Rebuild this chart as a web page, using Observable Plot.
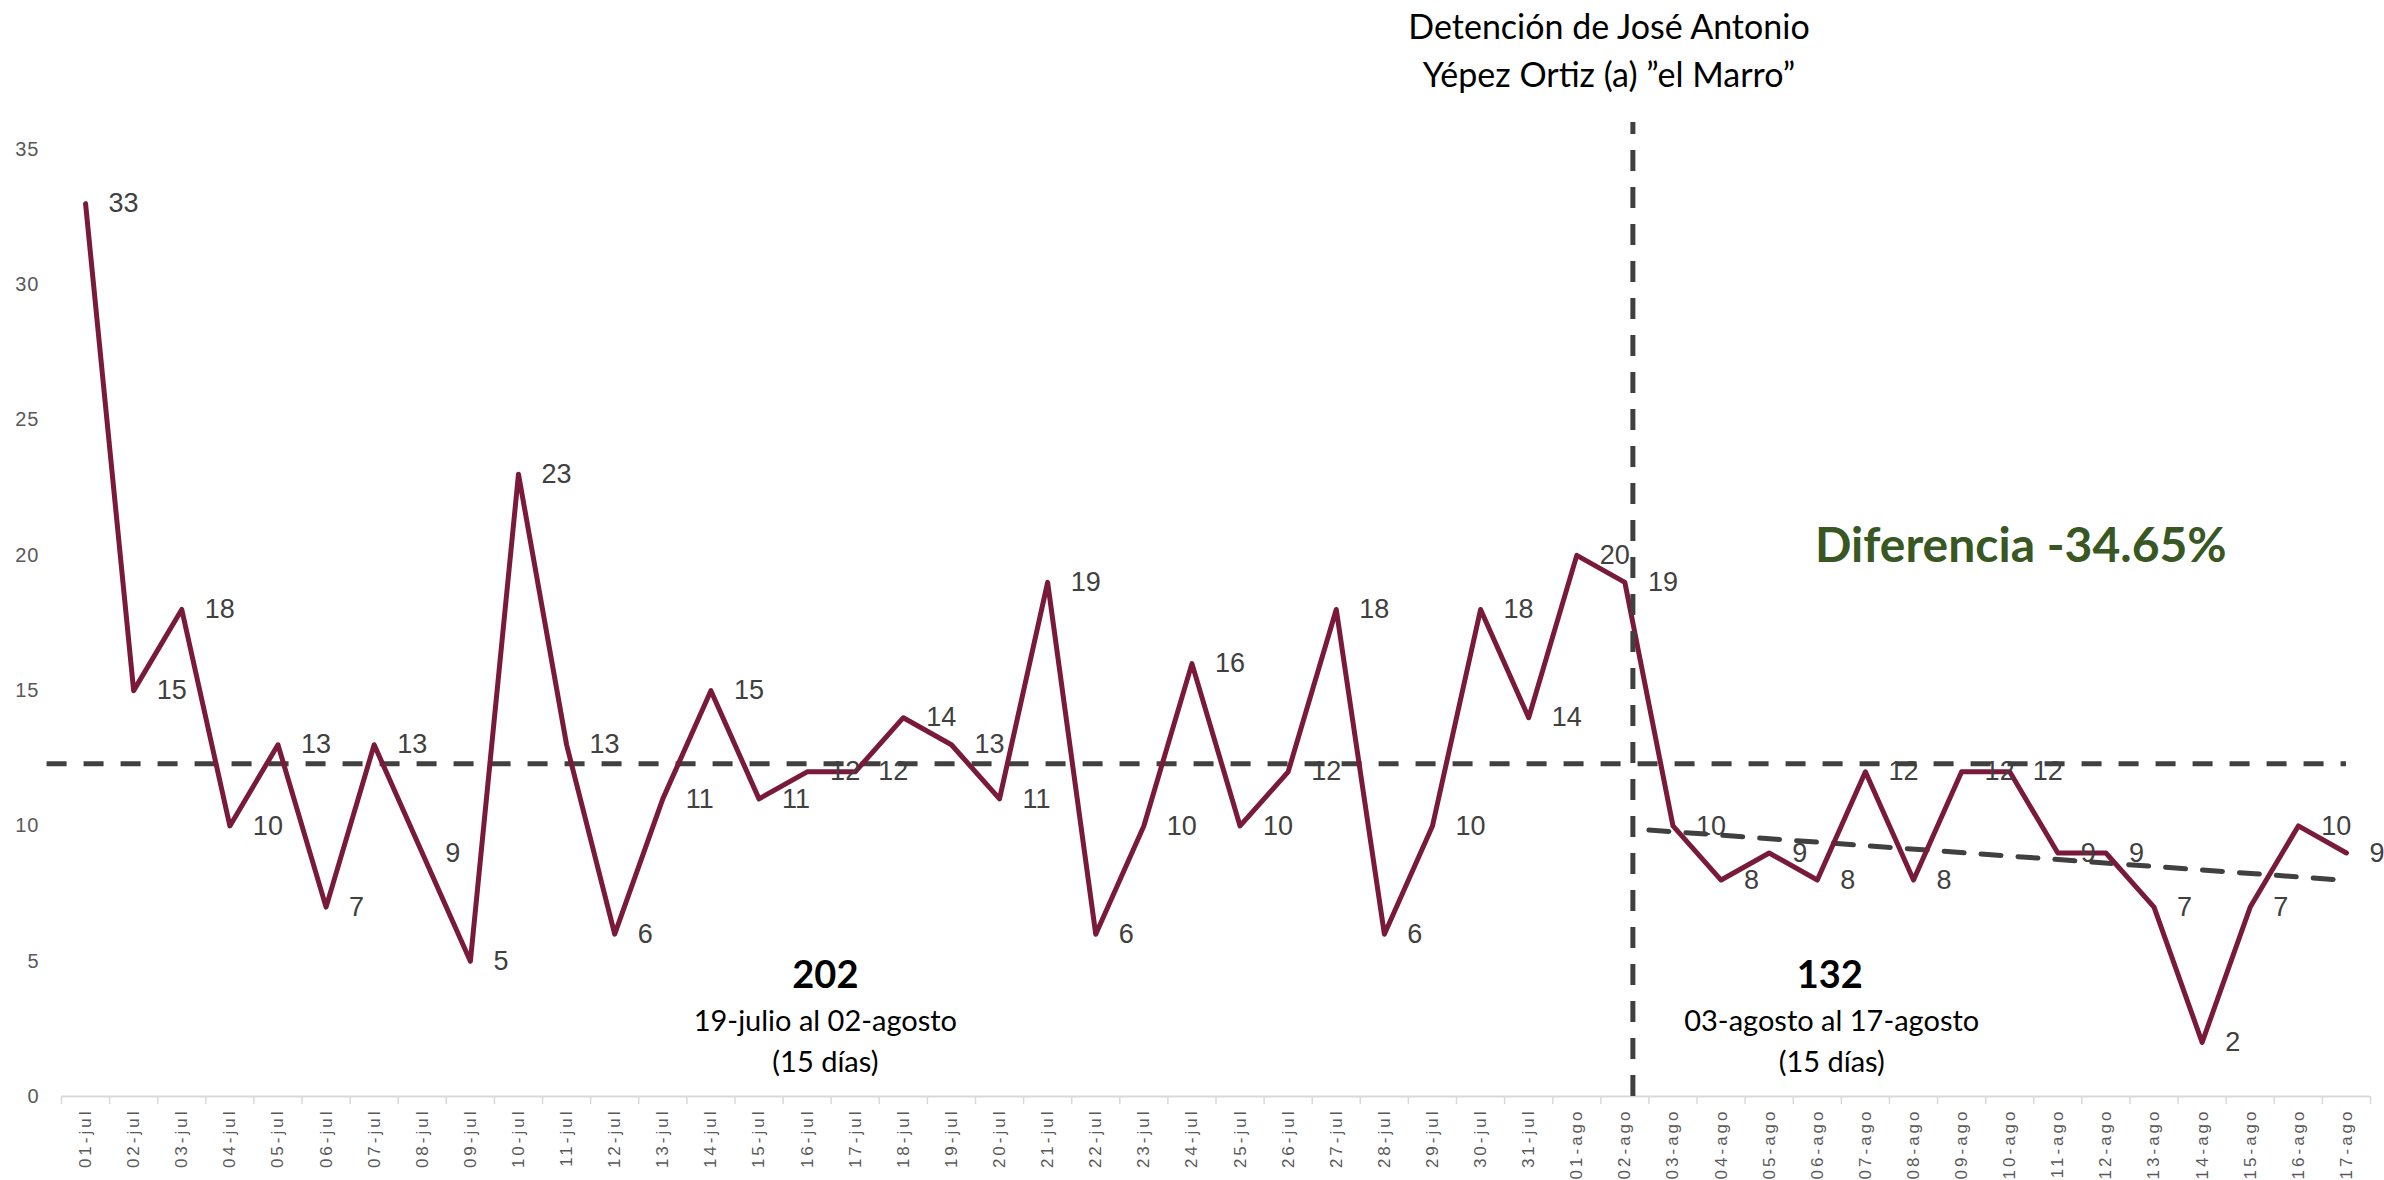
<!DOCTYPE html>
<html>
<head>
<meta charset="utf-8">
<script src="https://cdn.jsdelivr.net/npm/d3@7"></script>
<script src="https://cdn.jsdelivr.net/npm/@observablehq/plot@0.6"></script>
<style>
html, body { margin: 0; padding: 0; background: #ffffff; }
#chart svg { display: block; }
</style>
</head>
<body>
<div id="chart"></div>
<script>
// ---- Data ----
const dates = [
  "01-jul","02-jul","03-jul","04-jul","05-jul","06-jul","07-jul","08-jul","09-jul","10-jul",
  "11-jul","12-jul","13-jul","14-jul","15-jul","16-jul","17-jul","18-jul","19-jul","20-jul",
  "21-jul","22-jul","23-jul","24-jul","25-jul","26-jul","27-jul","28-jul","29-jul","30-jul",
  "31-jul","01-ago","02-ago","03-ago","04-ago","05-ago","06-ago","07-ago","08-ago","09-ago",
  "10-ago","11-ago","12-ago","13-ago","14-ago","15-ago","16-ago","17-ago"
];
const values = [
  33,15,18,10,13,7,13,9,5,23,
  13,6,11,15,11,12,12,14,13,11,
  19,6,10,16,10,12,18,6,10,18,
  14,20,19,10,8,9,8,12,8,12,
  12,9,9,7,2,7,10,9
];
const yTicks = [0, 5, 10, 15, 20, 25, 30, 35];
const referenceLevel = 12.3;          // horizontal dashed line
const trendValues = [9.85, 8.0];      // dashed trend, start / end (03-ago → 17-ago)
const eventDate = "02-ago";
const titleLines = ["Detención de José Antonio", "Yépez Ortiz (a) ”el Marro”"];
const periodTotals = ["202", "132"];
const periodRanges = ["19-julio al 02-agosto", "03-agosto al 17-agosto"];
const periodDays = ["(15 días)", "(15 días)"];
const differenceText = "Diferencia -34.65%";

// ---- Build ----
const rows = dates.map((d, i) => ({i, date: d, v: values[i]}));
const eventIdx = dates.indexOf(eventDate);
const n = dates.length;

const maroon = "#7A1A3A";
const dashColor = "#404040";
const labelColor = "#404040";
const axisGray = "#595959";
const calibriLike = "Lato, 'Open Sans', sans-serif";

const trend = [
  {i: eventIdx + 0.5, v: trendValues[0]},
  {i: n - 1.1, v: trendValues[1]}
];

const chart = Plot.plot({
  width: 2384,
  height: 1180,
  marginLeft: 61,
  marginRight: 14,
  marginTop: 149,
  marginBottom: 84,
  style: {fontFamily: "'Liberation Sans', Arial, sans-serif", background: "transparent", overflow: "visible"},
  x: {type: "linear", domain: [-0.5, n - 0.5]},
  y: {domain: [0, 35]},
  marks: [
    // axis baseline and band-boundary ticks
    Plot.ruleY([0], {x1: -0.5, x2: n - 0.5, stroke: "#d9d9d9", strokeWidth: 2}),
    Plot.ruleX(d3.range(-0.5, n, 1), {x: d => d, y1: 0, y2: -0.3, stroke: "#d9d9d9", strokeWidth: 1.5}),
    Plot.axisY({ticks: yTicks, tickSize: 0, tickPadding: 22, fontSize: 20, fill: axisGray, label: null}),
    Plot.axisX({
      ticks: d3.range(n), tickFormat: i => dates[i], tickRotate: -90,
      tickSize: 0, tickPadding: 12, fontSize: 17, fill: axisGray, label: null
    }),
    // reference dashed lines
    Plot.ruleY([referenceLevel], {x1: -0.8, x2: n - 1, stroke: dashColor, strokeWidth: 5, strokeDasharray: "20,17"}),
    Plot.line(trend, {x: "i", y: "v", stroke: dashColor, strokeWidth: 5, strokeDasharray: "20,17"}),
    // main series
    Plot.line(rows, {x: "i", y: "v", stroke: maroon, strokeWidth: 5, strokeLinejoin: "round", strokeLinecap: "round"}),
    // event line
    Plot.ruleX([eventIdx], {y1: 0, y2: 36, dx: 8, stroke: dashColor, strokeWidth: 5, strokeDasharray: "21,16"}),
    // data labels
    Plot.text(rows, {x: "i", y: "v", text: d => String(d.v), dx: 23, textAnchor: "start",
      fontSize: 27, fill: labelColor, fontFamily: "'Liberation Sans', Arial, sans-serif"}),
    // title at the event
    Plot.text([titleLines.join("\n")], {x: eventIdx - 0.33, y: 38.75, text: d => d, fontSize: 34,
      lineHeight: 1.41, fill: "#000", fontFamily: calibriLike}),
    // difference
    Plot.text([differenceText], {x: 40.23, y: 20.33, text: d => d, fontSize: 48, fontWeight: "bold",
      fill: "#385723", fontFamily: calibriLike}),
    // period totals
    Plot.text(periodTotals, {x: (d, k) => [15.38, 36.26][k], y: 4.45, text: d => d, fontSize: 38,
      fontWeight: "bold", fill: "#000", fontFamily: calibriLike}),
    Plot.text(periodRanges.map((r, k) => r + "\n" + periodDays[k]),
      {x: (d, k) => [15.38, 36.3][k], y: 2.15, text: d => d, fontSize: 29, lineHeight: 1.41,
       fill: "#000", fontFamily: calibriLike})
  ]
});

d3.select(chart).selectAll('g[aria-label="x-axis tick label"] text').style("letter-spacing", "3px");
d3.select(chart).selectAll('g[aria-label="y-axis tick label"] text').style("letter-spacing", "1px");

document.getElementById("chart").appendChild(chart);
</script>
</body>
</html>
